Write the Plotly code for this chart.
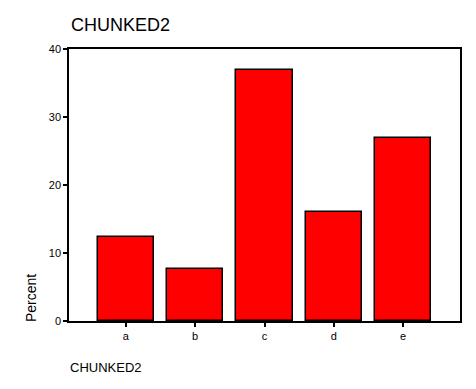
import plotly.graph_objects as go

categories = ["a", "b", "c", "d", "e"]
percents = [12.3, 7.6, 36.9, 16.0, 26.9]
y_ticks = [0, 10, 20, 30, 40]

fig = go.Figure()
fig.add_trace(go.Bar(
    x=categories, y=percents,
    marker=dict(color="#FF0000", line=dict(color="black", width=1.5)),
    width=0.81,
))

W, H = 476, 389
L, R, T, B = 69, 16, 49, 68

fig.update_layout(
    width=W, height=H,
    margin=dict(l=L, r=R, t=T, b=B),
    paper_bgcolor="white", plot_bgcolor="white",
    font=dict(family="Arial, Liberation Sans, sans-serif", color="black", size=11),
    showlegend=False,
    bargap=0,
)
fig.update_xaxes(
    range=[-0.82, 4.82], showline=True, linecolor="black", linewidth=1.5, mirror=True,
    ticks="outside", ticklen=4, tickwidth=2, tickcolor="black", showgrid=False,
    tickfont=dict(size=11),
)
fig.update_yaxes(
    range=[0, 40], tickvals=y_ticks, showline=True, linecolor="black", linewidth=1.5, mirror=True,
    ticks="outside", ticklen=4, tickwidth=2, tickcolor="black", showgrid=False, zeroline=False,
    tickfont=dict(size=11),
)

fig.add_annotation(text="CHUNKED2", xref="paper", yref="paper", x=-0.001, y=1 + 24 / (H - T - B),
                   xanchor="left", yanchor="middle", showarrow=False, font=dict(size=18))
fig.add_annotation(text="Percent", xref="paper", yref="paper", x=-38 / (W - L - R), y=23 / (H - T - B),
                   xanchor="center", yanchor="middle", textangle=-90, showarrow=False, font=dict(size=14))
fig.add_annotation(text="CHUNKED2", xref="paper", yref="paper", x=-1 / (W - L - R), y=-46 / (H - T - B),
                   xanchor="left", yanchor="middle", showarrow=False, font=dict(size=13))

fig.write_html("out.html")
